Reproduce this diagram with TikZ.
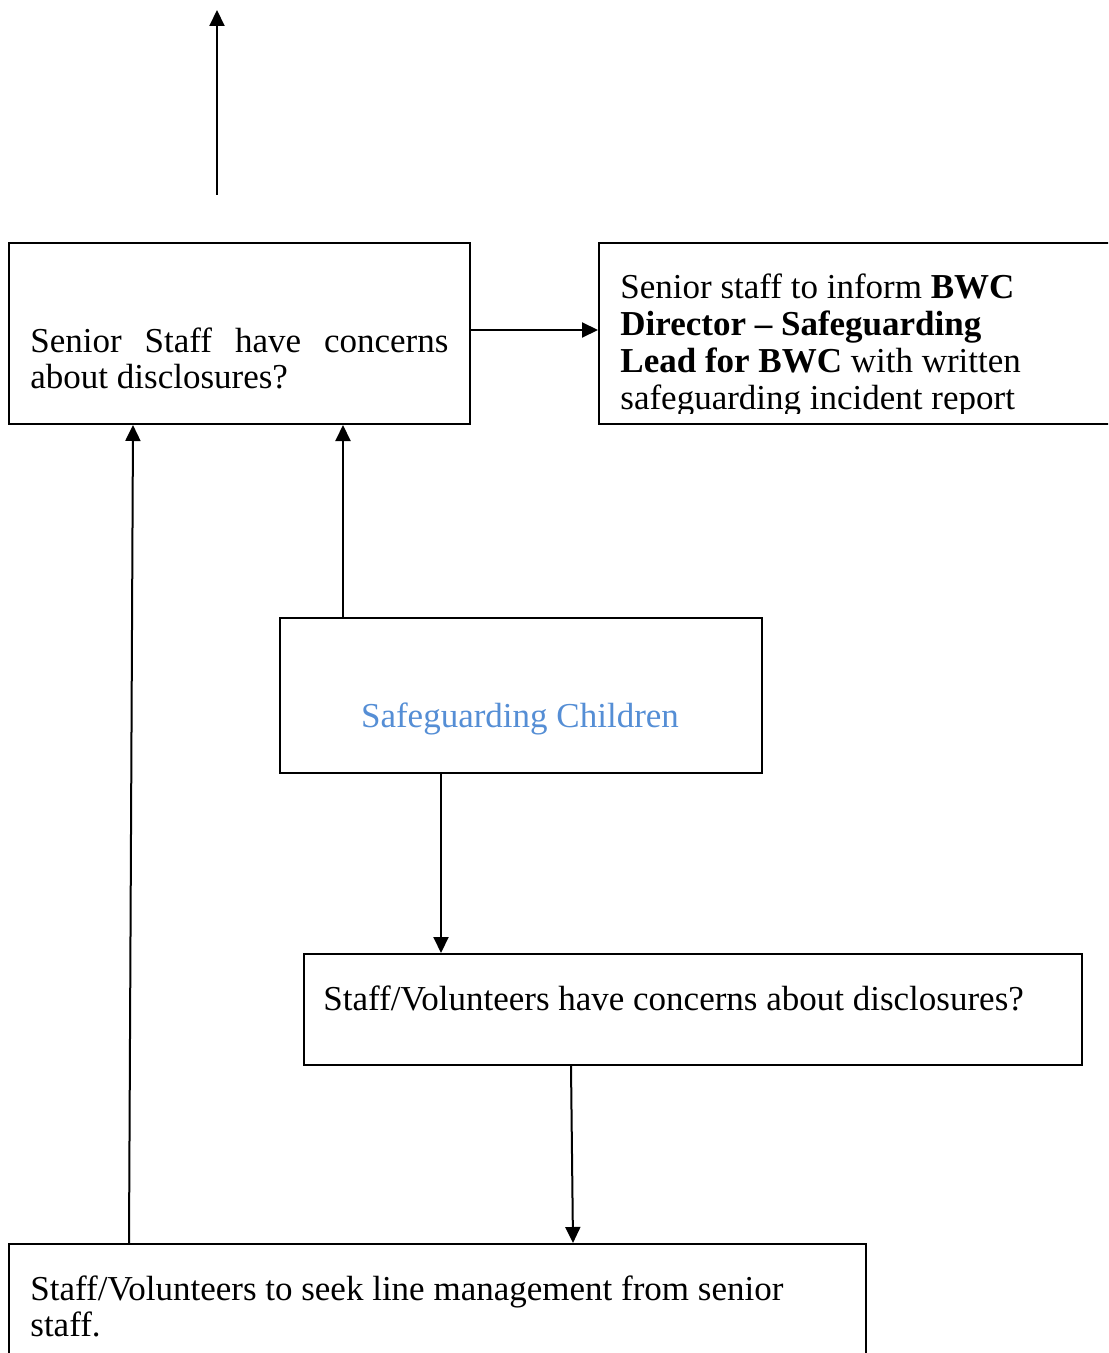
\documentclass[tikz,border=0pt]{standalone}
\usepackage{fontspec}
\setmainfont{Liberation Serif}
\usetikzlibrary{arrows.meta}
\definecolor{sgblue}{RGB}{85,142,213}
\tikzset{
  boxnode/.style={draw=black, line width=1pt, inner sep=0pt, anchor=north west},
  txt/.style={inner sep=0pt, anchor=base west, font=\fontsize{17.5}{18.4}\selectfont},
  arr/.style={draw=black, line width=1pt, -{Triangle[length=8pt,width=7.5pt]}}
}
\begin{document}
\begin{tikzpicture}[x=0.5pt,y=-0.5pt]
\useasboundingbox (0,0) rectangle (1108,1353);
\clip (0,0) rectangle (1108,1353);
% boxes
\node[boxnode, minimum width=230.5pt, minimum height=90.5pt] (a) at (8,242) {};
\node[boxnode, minimum width=270pt, minimum height=90.5pt] (b) at (598,242) {};
\node[boxnode, minimum width=241pt, minimum height=77.5pt] (c) at (279,617) {};
\node[boxnode, minimum width=389pt, minimum height=55.5pt] (d) at (303,953) {};
\node[boxnode, minimum width=428.5pt, minimum height=80pt] (e) at (8,1243) {};
% texts
\node[txt] (atext) at (30,352) {\vtop{\hbox to 209pt{Senior\hfill Staff\hfill have\hfill concerns}\hbox{about disclosures?}}};
\begin{scope}
\clip (598,242) rectangle (1108,413);
\node[txt] (btext) at (620,299) {\vtop{\hbox{Senior staff to inform \textbf{BWC}}\hbox{\textbf{Director -- Safeguarding}}\hbox{\textbf{Lead for BWC} with written}\hbox{safeguarding incident report}}};
\end{scope}
\node[txt, anchor=base, text=sgblue] (ctext) at (520,727) {Safeguarding Children};
\node[txt] (dtext) at (323,1010) {Staff/Volunteers have concerns about disclosures?};
\node[txt] (etext) at (30,1300) {\vtop{\hbox{Staff/Volunteers to seek line management from senior}\hbox{staff.}}};
% connector helpers
\coordinate (topstart) at (217,195);
\coordinate (toptip) at (217,10);
\coordinate (xca) at (343,0);
\coordinate (xcd) at (441,0);
\coordinate (xde1) at (571,0);
\coordinate (xde2) at (573,0);
\coordinate (xea1) at (129,0);
\coordinate (xea2) at (133,0);
\coordinate (yab) at (0,330);
% connectors
\draw[arr] (topstart) -- (toptip);
\draw[arr] (a.east |- yab) -- (b.west |- yab);
\draw[arr] (c.north -| xca) -- (a.south -| xca);
\draw[arr] (c.south -| xcd) -- (d.north -| xcd);
\draw[arr] (d.south -| xde1) -- (e.north -| xde2);
\draw[arr] (e.north -| xea1) -- (a.south -| xea2);
\end{tikzpicture}
\end{document}
